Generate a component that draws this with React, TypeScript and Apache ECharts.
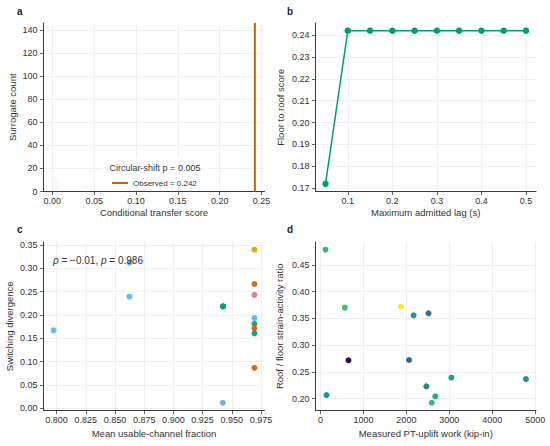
import React, { useEffect, useRef } from "react";
import * as echarts from "echarts";

// ---------- data ----------
const histBinCenters = [0.001, 0.003, 0.005, 0.007, 0.009, 0.011, 0.038, 0.041];
const histCounts = [6, 14, 9, 5, 3, 2, 4, 8];
const observedScore = 0.242;
const circularShiftP = "0.005";

const lagValues = [0.05, 0.1, 0.15, 0.2, 0.25, 0.3, 0.35, 0.4, 0.45, 0.5];
const lagScores = [0.172, 0.242, 0.242, 0.242, 0.242, 0.242, 0.242, 0.242, 0.242, 0.242];

const usableFraction = [0.7974, 0.8624, 0.8624, 0.9425, 0.9425, 0.9423, 0.9694, 0.9694, 0.9694, 0.9694, 0.9694, 0.9694, 0.9694, 0.9694];
const switchingDivergence = [0.1671, 0.312, 0.2391, 0.2186, 0.2186, 0.012, 0.3398, 0.2663, 0.2429, 0.1935, 0.1813, 0.1714, 0.1607, 0.087];
const channelGroup = ["sky", "sky", "sky", "green", "green", "sky", "orange", "vermillion", "pink", "sky", "green", "vermillion", "green", "vermillion"];
const rhoValue = "−0.01";
const rhoP = "0.986";

const upliftWork = [117, 140, 566, 652, 1875, 2168, 2515, 2062, 2465, 2675, 2590, 3048, 4785];
const strainRatio = [0.4786, 0.2069, 0.3702, 0.2718, 0.372, 0.356, 0.3597, 0.2724, 0.2232, 0.2045, 0.1925, 0.2393, 0.2368];
const colorMetric = [0.68, 0.52, 0.69, 0.0, 1.0, 0.53, 0.37, 0.36, 0.48, 0.62, 0.67, 0.55, 0.51];

const aXTicks = [0, 0.05, 0.1, 0.15, 0.2, 0.25];
const aYTicks = [0, 20, 40, 60, 80, 100, 120, 140];
const bXTicks = [0.1, 0.2, 0.3, 0.4, 0.5];
const bYTicks = [0.17, 0.18, 0.19, 0.2, 0.21, 0.22, 0.23, 0.24];
const cXTicks = [0.8, 0.825, 0.85, 0.875, 0.9, 0.925, 0.95, 0.975];
const cYTicks = [0, 0.05, 0.1, 0.15, 0.2, 0.25, 0.3, 0.35];
const dXTicks = [0, 1000, 2000, 3000, 4000, 5000];
const dYTicks = [0.2, 0.25, 0.3, 0.35, 0.4, 0.45];

// ---------- styles ----------
const FONT = "'Liberation Sans', Arial, Helvetica, sans-serif";
const groupColors: Record<string, string> = {
  sky: "#56B4E9",
  green: "#009E73",
  orange: "#E69F00",
  vermillion: "#D55E00",
  pink: "#CC79A7",
};
const viridis = ["#440154", "#482878", "#3e4989", "#31688e", "#26828e", "#1f9e89", "#35b779", "#6ece58", "#b5de2b", "#fde725"];

function axis(
  isY: boolean,
  gridIndex: number,
  min: number,
  max: number,
  ticks: number[],
  decimals: number,
  name: string,
  nameGap: number
) {
  return {
    type: "value",
    gridIndex,
    min,
    max,
    name,
    nameLocation: "middle",
    nameGap,
    nameTextStyle: { fontSize: 9.5, color: "#333", fontFamily: FONT },
    axisLine: { show: true, onZero: false, lineStyle: { color: "#3a3a3a", width: 1 } },
    axisTick: { show: true, length: 3.5, customValues: ticks, lineStyle: { color: "#3a3a3a", width: 0.8 } },
    axisLabel: {
      customValues: ticks,
      formatter: (v: number) => v.toFixed(decimals),
      fontSize: 9,
      color: "#333",
      fontFamily: FONT,
      margin: isY ? 6 : 5,
    },
    splitLine: { show: true, lineStyle: { color: "#ebebeb", width: 0.8 } },
  };
}

export default function App() {
  const ref = useRef<HTMLDivElement>(null);
  useEffect(() => {
    document.body.style.margin = "0";
    if (!ref.current) return;
    const chart = echarts.init(ref.current, undefined, { renderer: "svg" });

    const gridBase = { containLabel: false, outerBoundsMode: "none" };
    const observedName = "Observed = " + observedScore.toFixed(3);
    const option: any = {
      animation: false,
      backgroundColor: "#ffffff",
      textStyle: { fontFamily: FONT },
      grid: [
        { ...gridBase, left: 43.5, top: 23, width: 221, height: 168.5 },
        { ...gridBase, left: 315.5, top: 23, width: 220.5, height: 168.5 },
        { ...gridBase, left: 43.5, top: 242, width: 221, height: 168.5 },
        { ...gridBase, left: 315.5, top: 242, width: 220.5, height: 168.5 },
      ],
      xAxis: [
        axis(false, 0, -0.0105, 0.2535, aXTicks, 2, "Conditional transfer score", 16),
        axis(false, 1, 0.0275, 0.5225, bXTicks, 1, "Maximum admitted lag (s)", 16),
        axis(false, 2, 0.7888, 0.978, cXTicks, 3, "Mean usable-channel fraction", 18),
        axis(false, 3, -116, 5018, dXTicks, 0, "Measured PT-uplift work (kip-in)", 18),
      ],
      yAxis: [
        axis(true, 0, 0, 146, aYTicks, 0, "Surrogate count", 26),
        axis(true, 1, 0.1685, 0.2455, bYTicks, 2, "Floor to roof score", 30),
        axis(true, 2, -0.0044, 0.3562, cYTicks, 2, "Switching divergence", 29),
        axis(true, 3, 0.178, 0.493, dYTicks, 2, "Roof / floor strain-activity ratio", 31),
      ],
      legend: {
        data: [observedName],
        left: 112,
        top: 179,
        padding: 0,
        icon: "rect",
        itemWidth: 16,
        itemHeight: 2,
        z: 20,
        textStyle: { fontSize: 8, color: "#333", fontFamily: FONT },
      },
      visualMap: {
        show: false,
        type: "continuous",
        min: 0,
        max: 1,
        dimension: 2,
        seriesIndex: 4,
        inRange: { color: viridis },
      },
      series: [
        {
          type: "bar",
          xAxisIndex: 0,
          yAxisIndex: 0,
          barWidth: 2,
          itemStyle: { color: "rgba(200,200,210,0.12)" },
          data: histBinCenters.map((x, i) => [x, histCounts[i]]),
        },
        {
          name: observedName,
          type: "line",
          xAxisIndex: 0,
          yAxisIndex: 0,
          symbol: "none",
          lineStyle: { color: "#D55E00", width: 2 },
          itemStyle: { color: "#D55E00" },
          data: [
            [observedScore, 0],
            [observedScore, 146],
          ],
        },
        {
          type: "line",
          xAxisIndex: 1,
          yAxisIndex: 1,
          symbol: "circle",
          symbolSize: 6.5,
          lineStyle: { color: "#009E73", width: 1.5 },
          itemStyle: { color: "#009E73" },
          data: lagValues.map((x, i) => [x, lagScores[i]]),
        },
        {
          type: "scatter",
          xAxisIndex: 2,
          yAxisIndex: 2,
          symbolSize: 6,
          data: usableFraction.map((x, i) => ({
            value: [x, switchingDivergence[i]],
            itemStyle: { color: groupColors[channelGroup[i]], opacity: 0.92 },
          })),
        },
        {
          type: "scatter",
          xAxisIndex: 3,
          yAxisIndex: 3,
          symbolSize: 6,
          itemStyle: { opacity: 1 },
          data: upliftWork.map((x, i) => [x, strainRatio[i], colorMetric[i]]),
        },
      ],
      graphic: [
        { type: "text", left: 17, top: 6, style: { text: "a", fontSize: 10, fontWeight: "bold", fill: "#222", fontFamily: FONT } },
        { type: "text", left: 287, top: 6, style: { text: "b", fontSize: 10, fontWeight: "bold", fill: "#222", fontFamily: FONT } },
        { type: "text", left: 17, top: 224, style: { text: "c", fontSize: 10, fontWeight: "bold", fill: "#222", fontFamily: FONT } },
        { type: "text", left: 287, top: 224, style: { text: "d", fontSize: 10, fontWeight: "bold", fill: "#222", fontFamily: FONT } },
        {
          type: "rect",
          z: 5,
          shape: { x: 102, y: 157, width: 106, height: 28 },
          style: { fill: "#ffffff", stroke: "none" },
        },
        {
          type: "text",
          x: 155,
          y: 168,
          z: 10,
          style: {
            text: "Circular-shift p = " + circularShiftP,
            fontSize: 9,
            fill: "#333",
            fontFamily: FONT,
            align: "center",
            verticalAlign: "middle",
          },
        },
        {
          type: "text",
          x: 53,
          y: 260,
          z: 100,
          style: {
            text: "{i|ρ} = " + rhoValue + ", {i|p} = " + rhoP,
            fontSize: 10,
            fill: "#333",
            fontFamily: FONT,
            verticalAlign: "middle",
            rich: { i: { fontStyle: "italic", fontSize: 10, fill: "#333", fontFamily: FONT } },
          },
        },
      ],
    };
    chart.setOption(option);
    return () => chart.dispose();
  }, []);
  return <div ref={ref} style={{ width: 550, height: 446 }} />;
}
